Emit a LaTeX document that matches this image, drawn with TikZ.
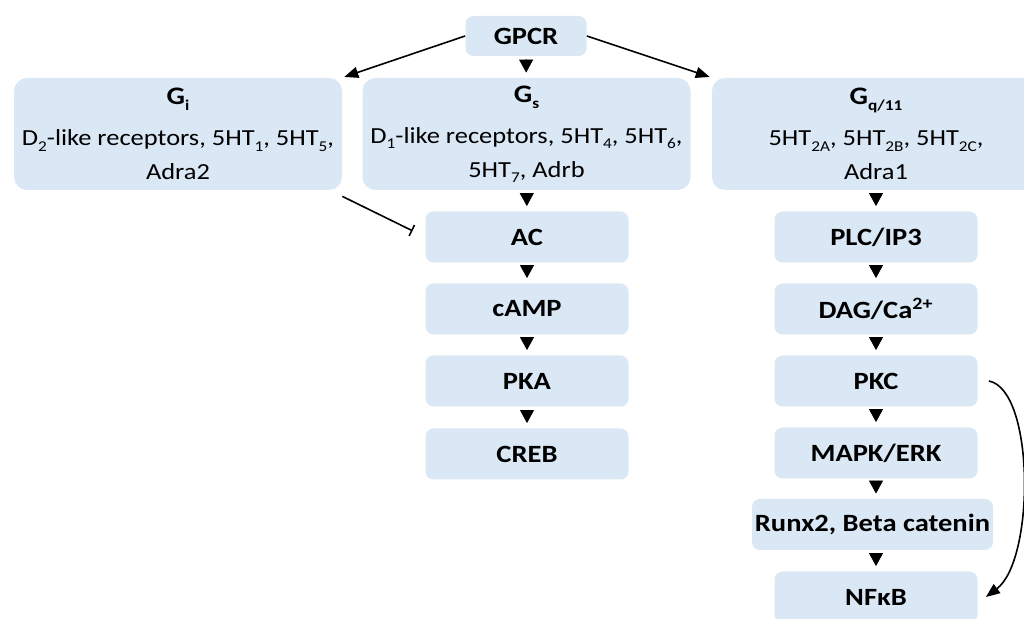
\documentclass[tikz,border=0pt]{standalone}
\usepackage{fontspec}
\setmainfont{Carlito}[FakeStretch=1.15]
\usetikzlibrary{arrows.meta}
\definecolor{boxblue}{RGB}{218,231,245}
\newcommand\lowsub[1]{\raisebox{-0.5ex}{\fontsize{7.5}{7.5}\selectfont #1}}
\tikzset{
  box/.style={fill=boxblue, rounded corners=4pt, minimum width=101.5pt, minimum height=25.5pt,
    inner sep=0pt, font=\bfseries\fontsize{12.4}{14}\selectfont},
  bigbox/.style={fill=boxblue, rounded corners=6.5pt, minimum width=164pt, minimum height=56pt,
    inner sep=0pt, align=center, font=\fontsize{11.5}{17}\selectfont},
  flow/.style={-{Triangle[length=6.5pt,width=7pt]}, shorten <=1.5pt, shorten >=2.5pt},
  fork/.style={thick, -{Triangle[length=7pt,width=5.5pt]}, shorten >=1pt},
}
\begin{document}
\begin{tikzpicture}[x=0.5pt, y=-0.5pt]
  \useasboundingbox (0,0) rectangle (1024,619);
  \node[box, minimum width=60.5pt, minimum height=20pt] (gpcr) at (526,36) {GPCR};
  \node[bigbox] (gi) at (178,134) {{\bfseries\fontsize{12.6}{14}\selectfont G\lowsub{i}}\\[3.5pt]
    D\lowsub{2}-like receptors, 5HT\lowsub{1}, 5HT\lowsub{5},\\ Adra2};
  \node[bigbox] (gs) at (526.5,134) {{\bfseries\fontsize{12.6}{14}\selectfont G\lowsub{s}}\\[3.5pt]
    D\lowsub{1}-like receptors, 5HT\lowsub{4}, 5HT\lowsub{6},\\ 5HT\lowsub{7}, Adrb};
  \node[bigbox] (gq) at (876,134) {{\bfseries\fontsize{12.6}{14}\selectfont G\lowsub{q/11}}\\[3.5pt]
    5HT\lowsub{2A}, 5HT\lowsub{2B}, 5HT\lowsub{2C},\\ Adra1};
  % cAMP branch
  \node[box] (ac) at (527,237) {AC};
  \node[box] (camp) at (527,309) {cAMP};
  \node[box] (pka) at (527,381) {PKA};
  \node[box] (creb) at (527,454) {CREB};
  % PLC branch
  \node[box] (plc) at (876,237) {PLC/IP3};
  \node[box] (dag) at (876,309) {DAG/Ca\textsuperscript{2+}};
  \node[box] (pkc) at (876,381) {PKC};
  \node[box] (mapk) at (876,453) {MAPK/ERK};
  \node[box, minimum width=120.5pt] (runx) at (872.5,524.5) {Runx2, Beta catenin};
  \node[box] (nfkb) at (876,597) {NFκB};

  \draw[fork] (gpcr.west) -- (gi.north east);
  \draw[fork] (gpcr.east) -- (gq.north west);
  \draw[flow] (gpcr) -- (gs);
  \draw[flow] (gs) -- (ac);
  \draw[flow] (ac) -- (camp);
  \draw[flow] (camp) -- (pka);
  \draw[flow] (pka) -- (creb);
  \draw[flow] (gq.south -| plc) -- (plc);
  \draw[flow] (plc) -- (dag);
  \draw[flow] (dag) -- (pkc);
  \draw[flow] (pkc) -- (mapk);
  \draw[flow] (mapk) -- (runx.north -| mapk);
  \draw[flow] (runx.south -| nfkb) -- (nfkb);
  \draw[thick, -{Bar[width=6pt]}, shorten >=7pt] ([yshift=-3pt]gi.south east) -- (ac.west);
  \draw[thick, -{Triangle[length=7pt,width=5.5pt]}] ([xshift=5.5pt]pkc.east)
    .. controls (1035,390) and (1035,560) .. ([xshift=4pt]nfkb.east);
\end{tikzpicture}
\end{document}
